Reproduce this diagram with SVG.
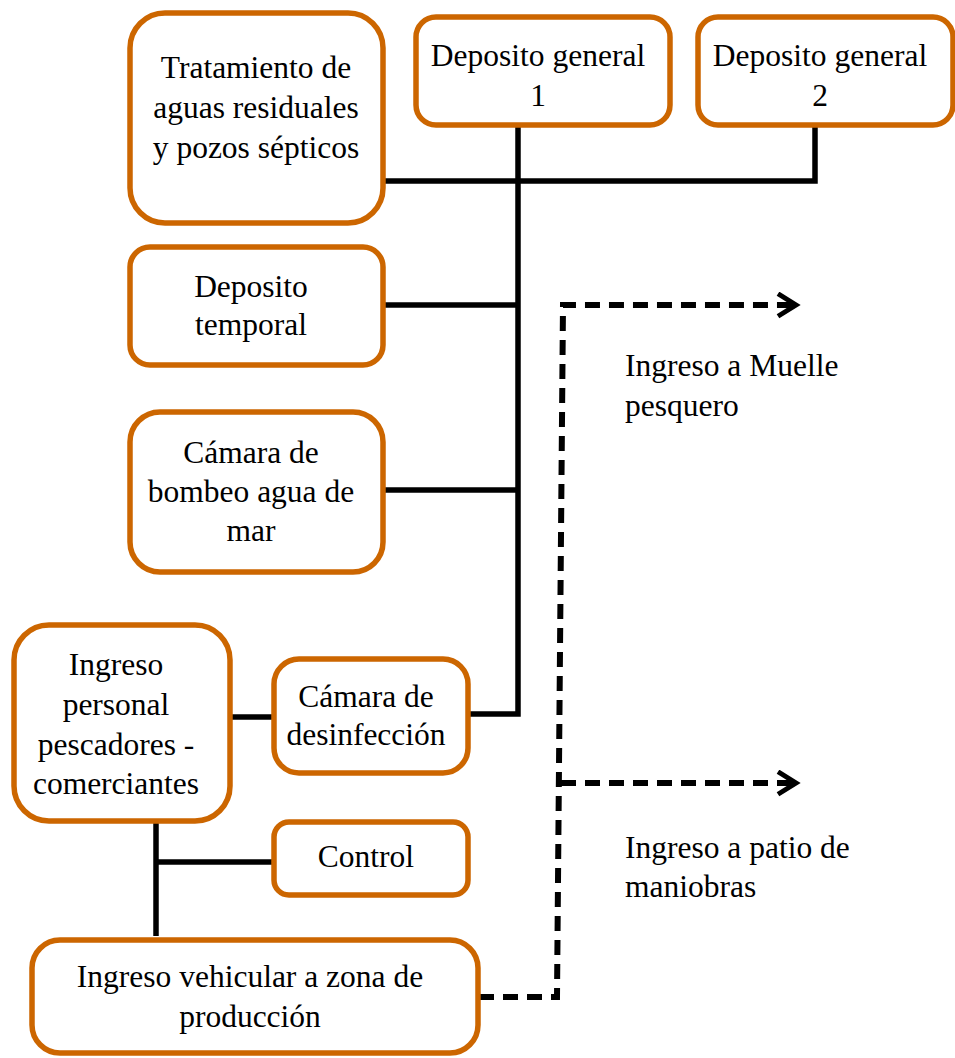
<svg xmlns="http://www.w3.org/2000/svg" width="955" height="1058" viewBox="0 0 955 1058">
  <style>
    .box { fill: #ffffff; stroke: #CC6600; stroke-width: 5.5; }
    .lbl { font-family: "Liberation Serif", "Times New Roman", serif; font-size: 31.5px; fill: #000000; text-anchor: middle; }
    .note { font-family: "Liberation Serif", "Times New Roman", serif; font-size: 31.5px; fill: #000000; }
    .link { fill: none; stroke: #000000; stroke-width: 5.5; }
    .dash { fill: none; stroke: #000000; stroke-width: 6; stroke-dasharray: 15 9; }
  </style>
  <defs>
    <marker id="chev" viewBox="0 0 12 12" refX="10" refY="6" markerWidth="4.5" markerHeight="4.5" orient="auto" markerUnits="strokeWidth">
      <path d="M2,1 L10,6 L2,11" fill="none" stroke="#000000" stroke-width="2.2"/>
    </marker>
  </defs>

  <rect width="955" height="1058" fill="#ffffff"/>

  <!-- connectors -->
  <g id="connectors">
    <path class="link" d="M518,125 V714 H468"/>
    <path class="link" d="M384,181 H815 V125"/>
    <path class="link" d="M384,305 H518"/>
    <path class="link" d="M384,490 H518"/>
    <path class="link" d="M230,717 H274"/>
    <path class="link" d="M156,822 V936"/>
    <path class="link" d="M156,862 H274"/>
    <path class="dash" d="M479,997 H557 L563,305 H796" marker-end="url(#chev)"/>
    <path class="dash" d="M561,783 H796" marker-end="url(#chev)"/>
  </g>

  <g id="tratamiento">
    <rect class="box" x="130" y="13" width="253" height="210" rx="35"/>
    <text class="lbl" x="256" y="78">Tratamiento de</text>
    <text class="lbl" x="256" y="118">aguas residuales</text>
    <text class="lbl" x="256" y="158">y pozos sépticos</text>
  </g>

  <g id="deposito-general-1">
    <rect class="box" x="416" y="17" width="254" height="108" rx="20"/>
    <text class="lbl" x="538" y="66">Deposito general</text>
    <text class="lbl" x="538" y="106">1</text>
  </g>

  <g id="deposito-general-2">
    <rect class="box" x="698" y="17" width="255" height="108" rx="20"/>
    <text class="lbl" x="820" y="66">Deposito general</text>
    <text class="lbl" x="820" y="106">2</text>
  </g>

  <g id="deposito-temporal">
    <rect class="box" x="130" y="247" width="253" height="118" rx="20"/>
    <text class="lbl" x="251" y="297">Deposito</text>
    <text class="lbl" x="251" y="335">temporal</text>
  </g>

  <g id="camara-bombeo">
    <rect class="box" x="130" y="412" width="253" height="160" rx="30"/>
    <text class="lbl" x="251" y="463">Cámara de</text>
    <text class="lbl" x="251" y="502">bombeo agua de</text>
    <text class="lbl" x="251" y="541">mar</text>
  </g>

  <g id="ingreso-personal">
    <rect class="box" x="14" y="625" width="216" height="196" rx="35"/>
    <text class="lbl" x="116" y="675">Ingreso</text>
    <text class="lbl" x="116" y="715">personal</text>
    <text class="lbl" x="116" y="755">pescadores -</text>
    <text class="lbl" x="116" y="794">comerciantes</text>
  </g>

  <g id="camara-desinfeccion">
    <rect class="box" x="274" y="659" width="194" height="114" rx="25"/>
    <text class="lbl" x="366" y="707">Cámara de</text>
    <text class="lbl" x="366" y="745">desinfección</text>
  </g>

  <g id="control">
    <rect class="box" x="274" y="822" width="194" height="73" rx="15"/>
    <text class="lbl" x="366" y="867">Control</text>
  </g>

  <g id="ingreso-vehicular">
    <rect class="box" x="32" y="940" width="446" height="113" rx="28"/>
    <text class="lbl" x="250" y="987">Ingreso vehicular a zona de</text>
    <text class="lbl" x="250" y="1027">producción</text>
  </g>

  <g id="muelle-label">
    <text class="note" x="625" y="376">Ingreso a Muelle</text>
    <text class="note" x="625" y="416">pesquero</text>
  </g>

  <g id="patio-label">
    <text class="note" x="625" y="858">Ingreso a patio de</text>
    <text class="note" x="625" y="897">maniobras</text>
  </g>
</svg>
